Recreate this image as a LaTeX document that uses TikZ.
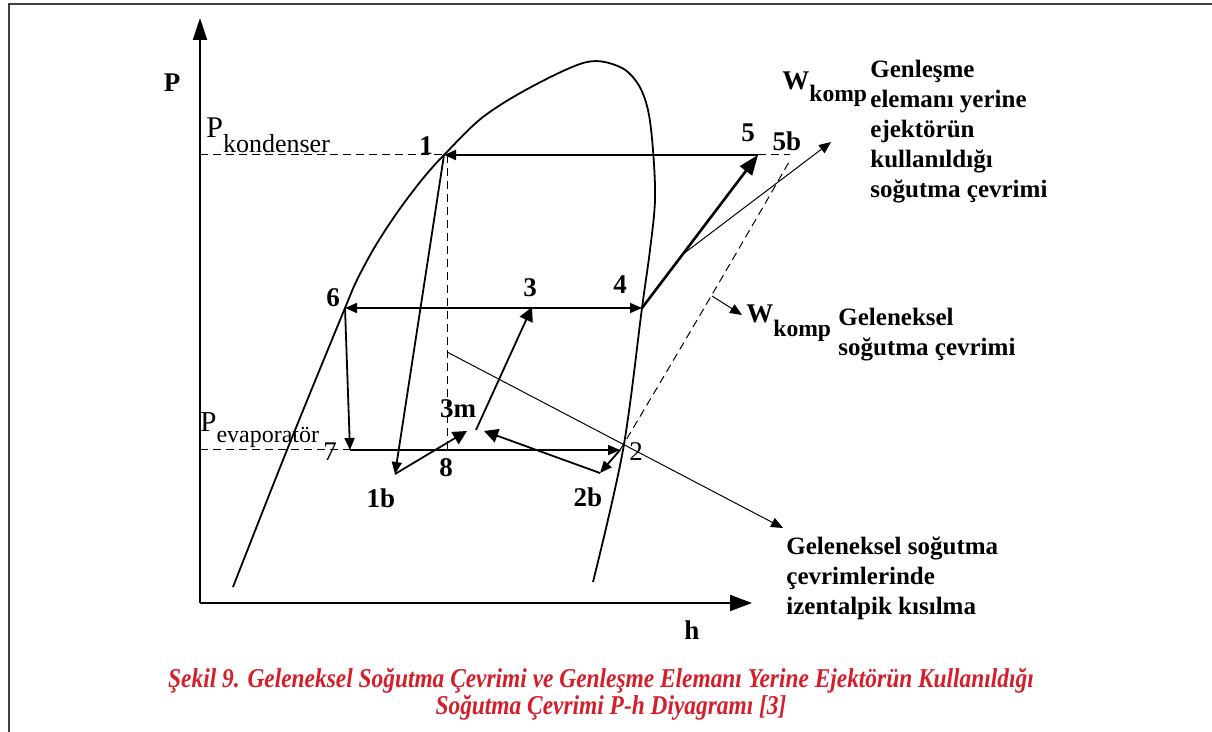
\documentclass[tikz,border=0pt]{standalone}
\usepackage{fontspec}
\setmainfont{Liberation Serif}
\newfontfamily\capfont[FakeStretch=0.86]{Liberation Serif}
\usetikzlibrary{arrows.meta,positioning,calc}
\definecolor{capred}{RGB}{214,30,42}

\begin{document}
\begin{tikzpicture}[x=0.5pt,y=-0.5pt,
    cyc/.style={line width=0.9pt},
    thinl/.style={line width=0.5pt},
    dsh/.style={line width=0.5pt, dash pattern=on 4pt off 2.5pt},
    arr/.style={-{Triangle[length=6pt,width=5pt]}},
    midarr/.style={-{Triangle[length=7pt,width=7pt]}},
    bigarr/.style={-{Triangle[length=10pt,width=7.5pt]}},
    num/.style={font=\fontsize{13.5}{16}\selectfont\bfseries, inner sep=0pt},
    note/.style={font=\fontsize{12.5}{15}\selectfont\bfseries, align=left, inner sep=0pt, anchor=north west},
    capstyle/.style={font=\fontsize{13.6}{16}\selectfont\capfont\bfseries\itshape, text=capred, inner sep=0pt, anchor=base}]
    \useasboundingbox (0,0) rectangle (1212,732);

    % Frame
    \draw[line width=1.2pt, black!75] (1212,4) -- (9,4) -- (9,732);

    % Axes
    \coordinate (o) at (200,603);
    \coordinate (ptop) at (200,18);
    \coordinate (hend) at (752,603);
    \draw[line width=1pt, -{Triangle[length=11pt,width=7pt]}] (o) -- (ptop);
    \draw[line width=1pt, -{Triangle[length=11pt,width=8pt]}] (o) -- (hend);
    \node[num] (plab) at (172,83) {P};
    \node[num] (hlab) at (692,630) {h};

    % Saturation dome
    \draw[line width=0.9pt] plot[smooth, tension=0.55] coordinates {
        (233,587) (287,450) (345,308) (357,280) (373,250) (390,223) (407,199)
        (425,176) (444,155) (483,117) (533,86) (587,62) (620,67) (638,84) (648,110)
        (653,150) (655,200) (650,250) (642,308) (623,450) (593,582)};

    % Cycle points
    \coordinate (p1) at (444,155);
    \coordinate (p5) at (758,155);
    \coordinate (p5b) at (790,155);
    \coordinate (p6) at (345,308);
    \coordinate (p4) at (642,308);
    \coordinate (p3) at (532,307);
    \coordinate (p7) at (350,450);
    \coordinate (p8) at (447,450);
    \coordinate (p2) at (620,450);
    \coordinate (p1b) at (395,474);
    \coordinate (p2b) at (600,473);
    \coordinate (p3m) at (476,430);
    \coordinate (m1) at (467,431);
    \coordinate (m2) at (484,431);

    % Pressure levels
    \draw[dsh] (o |- p1) -- (p1);
    \draw[dsh] (o |- p7) -- (p7);
    \draw[dsh] (p8 |- p1) -- (p8);
    \draw[dsh] (p5) -- (p5b);

    % Cycle lines
    \draw[cyc, arr] (p5) -- (p1);
    \draw[cyc, arr] (p1) -- (p1b);
    \draw[cyc, {Triangle[length=6pt,width=5pt]}-{Triangle[length=6pt,width=5pt]}] (p6) -- (p4);
    \draw[cyc, arr] (p6) -- (p7);
    \draw[cyc, arr] (p7) -- (p2);
    \draw[cyc, midarr] (p1b) -- (m1);
    \draw[cyc, arr] (p2) -- (p2b);
    \draw[cyc, midarr] (p2b) -- (m2);
    \draw[cyc, midarr] (p3m) -- (p3);
    \draw[line width=1.3pt, bigarr] (p4) -- (p5);

    % Compressor lines
    \coordinate (q) at ($(p4)!0.35!(p5)$);
    \coordinate (wk1) at (831,142);
    \draw[thinl, arr] (q) -- (wk1);
    \coordinate (p5c) at (789,162);
    \draw[dsh] (p2) .. controls (680,350) and (750,230) .. (p5c);
    \coordinate (wk2s) at (712,296);
    \coordinate (wk2) at (742,315);
    \draw[thinl, arr] (wk2s) -- (wk2);

    % Isenthalpic expansion pointer
    \coordinate (iz) at (447,352);
    \coordinate (izend) at (783,528);
    \draw[thinl, arr] (iz) -- (izend);

    % Point labels
    \node[num] (l1) at (426,146) {1};
    \node[num] (l3) at (530,288) {3};
    \node[num] (l4) at (620,285) {4};
    \node[num] (l5) at (748,133) {5};
    \node[num] (l5b) at (787,141) {5b};
    \node[num] (l6) at (333,298) {6};
    \node[font=\fontsize{13.5}{16}\selectfont, inner sep=0pt] (l7) at (330,452) {7};
    \node[num] (l8) at (446,468) {8};
    \node[font=\fontsize{13.5}{16}\selectfont, inner sep=0pt] (l2) at (636,452) {2};
    \node[num] (l1b) at (381,498) {1b};
    \node[num] (l2b) at (588,497) {2b};
    \node[num] (l3m) at (458,409) {3m};

    % Pressure labels
    \node[anchor=base west, inner sep=0pt, font=\fontsize{13}{15}\selectfont] (pk) at (206,138)
        {{\fontsize{15}{15}\selectfont P}\raisebox{-7.5pt}{kondenser}};
    \node[anchor=base west, inner sep=0pt, font=\fontsize{12}{14}\selectfont] (pe) at (200,432)
        {{\fontsize{14.5}{15}\selectfont P}\raisebox{-5.5pt}{evaporatör}};

    % Work labels
    \node[anchor=base west, inner sep=0pt, font=\fontsize{11.8}{14}\selectfont\bfseries] (wa) at (782,90)
        {{\fontsize{13.5}{15}\selectfont W}\raisebox{-6pt}{komp}};
    \node[anchor=base west, inner sep=0pt, font=\fontsize{11.8}{14}\selectfont\bfseries] (wb) at (746,323)
        {{\fontsize{13.5}{15}\selectfont W}\raisebox{-7pt}{komp}};

    % Notes
    \node[note] (ejnote) at (870,60) {Genleşme\\elemanı yerine\\ejektörün\\kullanıldığı\\soğutma çevrimi};
    \node[note] (genote) at (838,308) {Geleneksel\\soğutma çevrimi};
    \node[note] (iznote) at (786,536) {Geleneksel soğutma\\çevrimlerinde\\izentalpik kısılma};

    % Caption
    \node[capstyle] (cap1) at (601,688) {Şekil 9. Geleneksel Soğutma Çevrimi ve Genleşme Elemanı Yerine Ejektörün Kullanıldığı};
    \node[capstyle] (cap2) at (611,715) {Soğutma Çevrimi P-h Diyagramı [3]};
\end{tikzpicture}
\end{document}
